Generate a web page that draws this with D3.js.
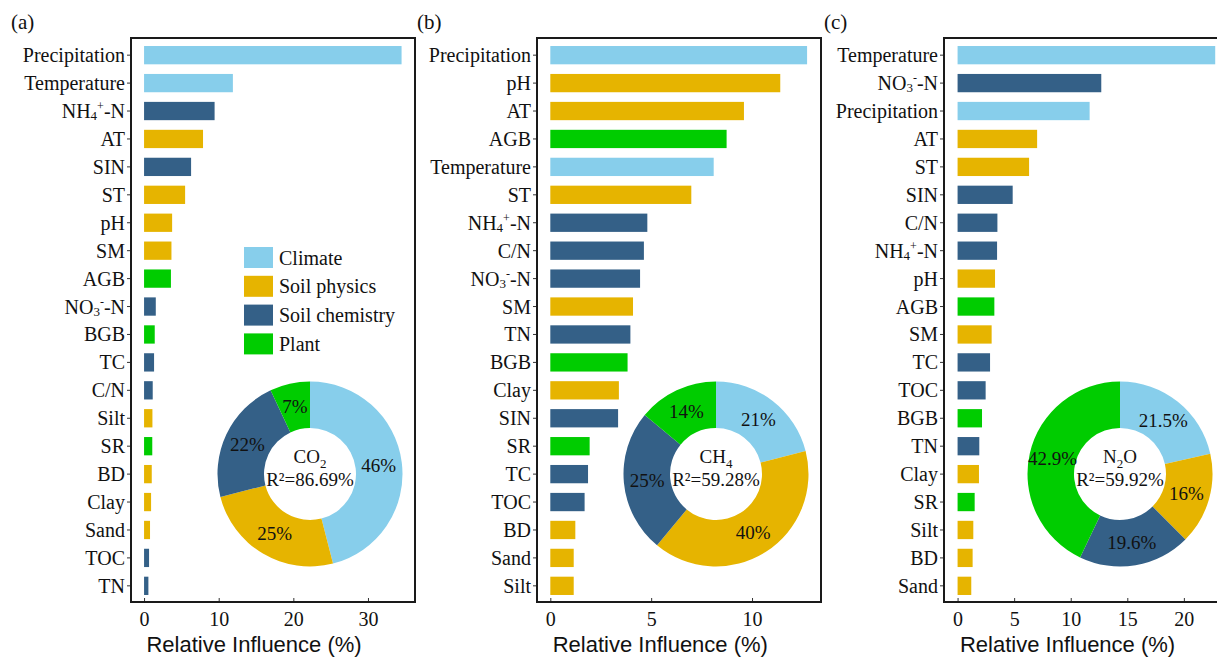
<!DOCTYPE html>
<html>
<head>
<meta charset="utf-8">
<script src="https://cdn.jsdelivr.net/npm/d3@7"></script>
<style>
  body { margin: 0; background: #fff; }
  svg { display: block; font-family: "Liberation Serif", "Times New Roman", serif; }
</style>
</head>
<body>
<svg id="chart" width="1217" height="659"></svg>
<script>
// ---- data ----
const groupNames = ["Climate", "Soil physics", "Soil chemistry", "Plant"];
const groupColors = ["#87CEEB", "#E6B400", "#346087", "#00CC00"];

const climateFactors = ["Precipitation", "Temperature"];
const physicsFactors = ["AT", "ST", "pH", "SM", "Silt", "BD", "Clay", "Sand"];
const chemistryFactors = ["NH4+-N", "SIN", "NO3--N", "TC", "C/N", "TOC", "TN"];
const plantFactors = ["AGB", "BGB", "SR"];

// (a) CO2
const co2Factors = ["Precipitation", "Temperature", "NH4+-N", "AT", "SIN", "ST", "pH", "SM", "AGB", "NO3--N",
  "BGB", "TC", "C/N", "Silt", "SR", "BD", "Clay", "Sand", "TOC", "TN"];
const co2Values = [34.5, 11.9, 9.45, 7.9, 6.3, 5.5, 3.76, 3.67, 3.6, 1.57,
  1.43, 1.34, 1.16, 1.12, 1.1, 1.03, 0.94, 0.8, 0.67, 0.58];
const co2Shares = [46, 25, 22, 7];

// (b) CH4
const ch4Factors = ["Precipitation", "pH", "AT", "AGB", "Temperature", "ST", "NH4+-N", "C/N", "NO3--N", "SM",
  "TN", "BGB", "Clay", "SIN", "SR", "TC", "TOC", "BD", "Sand", "Silt"];
const ch4Values = [12.73, 11.4, 9.6, 8.74, 8.1, 6.99, 4.81, 4.64, 4.45, 4.1,
  3.97, 3.83, 3.4, 3.36, 1.95, 1.87, 1.7, 1.24, 1.16, 1.16];
const ch4Shares = [21, 40, 25, 14];

// (c) N2O
const n2oFactors = ["Temperature", "NO3--N", "Precipitation", "AT", "ST", "SIN", "C/N", "NH4+-N", "pH", "AGB",
  "SM", "TC", "TOC", "BGB", "TN", "Clay", "SR", "Silt", "BD", "Sand"];
const n2oValues = [22.77, 12.7, 11.67, 7.03, 6.32, 4.87, 3.52, 3.49, 3.31, 3.25,
  3.01, 2.87, 2.48, 2.16, 1.92, 1.89, 1.51, 1.39, 1.33, 1.21];
const n2oShares = [21.5, 16, 19.6, 42.9];

const xTicksA = [0, 10, 20, 30];
const xTicksB = [0, 5, 10];
const xTicksC = [0, 5, 10, 15, 20];

// ---- helpers ----
function groupOf(f) {
  if (climateFactors.includes(f)) return 0;
  if (physicsFactors.includes(f)) return 1;
  if (chemistryFactors.includes(f)) return 2;
  return 3;
}

// split a factor name into normal / sub / sup pieces
function labelParts(f) {
  if (f === "NH4+-N") return [["NH", 0], ["4", 1], ["+", 2], ["-N", 0]];
  if (f === "NO3--N") return [["NO", 0], ["3", 1], ["-", 2], ["-N", 0]];
  return [[f, 0]];
}

// tspans with small raised/lowered pieces; base offset keeps text centred on the tick
function writeParts(textSel, parts, base, subShift) {
  textSel.text(null).attr("dy", null);
  let shift = -base;
  parts.forEach(([s, kind]) => {
    const sp = textSel.append("tspan").text(s);
    let target = 0;
    if (kind === 1) { sp.attr("font-size", 13); target = subShift; }
    if (kind === 2) { sp.attr("font-size", 12); target = -8; }
    sp.attr("dy", target - shift);
    shift = target;
  });
}

const svg = d3.select("#chart");

const panels = [
  { tag: "(a)", left: 131, domain: [-1.75, 36.3], ticks: xTicksA, factors: co2Factors, values: co2Values,
    shares: co2Shares, gas: [["CO", 0], ["2", 1]], r2: "R²=86.69%", cx: 310, legend: true },
  { tag: "(b)", left: 537, domain: [-0.66, 13.42], ticks: xTicksB, factors: ch4Factors, values: ch4Values,
    shares: ch4Shares, gas: [["CH", 0], ["4", 1]], r2: "R²=59.28%", cx: 716, legend: false },
  { tag: "(c)", left: 944, domain: [-1.2, 23.9], ticks: xTicksC, factors: n2oFactors, values: n2oValues,
    shares: n2oShares, gas: [["N", 0], ["2", 1], ["O", 0]], r2: "R²=59.92%", cx: 1120, legend: false }
];

const frameW = 284, frameTop = 38, frameBottom = 602;

panels.forEach(p => {
  const g = svg.append("g");

  const x = d3.scaleLinear().domain(p.domain).range([p.left, p.left + frameW]);
  const y = d3.scaleBand().domain(p.factors).range([41.2, 599.8])
    .paddingInner(0.345).paddingOuter(0.1725);

  // bars
  g.selectAll("rect.bar")
    .data(p.factors.map((f, i) => ({ f, v: p.values[i] })))
    .join("rect")
    .attr("class", "bar")
    .attr("x", x(0))
    .attr("y", d => y(d.f))
    .attr("width", d => x(d.v) - x(0))
    .attr("height", y.bandwidth())
    .attr("fill", d => groupColors[groupOf(d.f)]);

  // y axis
  const yAxis = g.append("g")
    .attr("transform", `translate(${p.left},0)`)
    .call(d3.axisLeft(y).tickSizeInner(4).tickSizeOuter(0).tickPadding(2));
  yAxis.select(".domain").remove();
  yAxis.selectAll(".tick line").attr("stroke", "#333");
  yAxis.selectAll(".tick text")
    .attr("font-size", 20).attr("fill", "#111")
    .attr("font-family", "Liberation Serif, Times New Roman, serif")
    .each(function (d) { writeParts(d3.select(this), labelParts(d), 7, 2); });

  // x axis (inward ticks)
  const xAxis = g.append("g")
    .attr("transform", `translate(0,${frameBottom})`)
    .call(d3.axisBottom(x).tickValues(p.ticks).tickSizeInner(-4).tickSizeOuter(0).tickPadding(10));
  xAxis.select(".domain").remove();
  xAxis.selectAll(".tick line").attr("stroke", "#333");
  xAxis.selectAll(".tick text")
    .attr("font-size", 20).attr("fill", "#111")
    .attr("font-family", "Liberation Serif, Times New Roman, serif");

  // frame
  g.append("rect")
    .attr("x", p.left).attr("y", frameTop)
    .attr("width", frameW).attr("height", frameBottom - frameTop)
    .attr("fill", "none").attr("stroke", "#1a1a1a").attr("stroke-width", 2);

  // axis title
  g.append("text")
    .attr("x", x(0) + 110).attr("y", 652)
    .attr("text-anchor", "middle")
    .attr("font-family", "Liberation Sans, Arial, sans-serif")
    .attr("font-size", 22).attr("fill", "#111")
    .text("Relative Influence (%)");

  // panel tag
  g.append("text")
    .attr("x", p.left - 120).attr("y", 29)
    .attr("font-size", 21).attr("fill", "#111")
    .text(p.tag);

  // donut
  const cy = 474;
  const pie = d3.pie().sort(null).value(d => d)(p.shares);
  const arc = d3.arc().innerRadius(46).outerRadius(92.5);
  const dg = g.append("g").attr("transform", `translate(${p.cx},${cy})`);
  dg.selectAll("path")
    .data(pie)
    .join("path")
    .attr("d", arc)
    .attr("fill", (d, i) => groupColors[i]);
  dg.selectAll("text.pct")
    .data(pie)
    .join("text")
    .attr("class", "pct")
    .attr("transform", d => `translate(${arc.centroid(d)})`)
    .attr("text-anchor", "middle")
    .attr("dy", "0.35em")
    .attr("font-size", 19).attr("fill", "#111")
    .text(d => d.data + "%");

  const gasText = dg.append("text")
    .attr("y", -11).attr("text-anchor", "middle")
    .attr("font-size", 19).attr("fill", "#111");
  writeParts(gasText, p.gas, 0, 5);
  dg.append("text")
    .attr("y", 12).attr("text-anchor", "middle")
    .attr("font-size", 19).attr("fill", "#111")
    .text(p.r2);

  // legend
  if (p.legend) {
    const lg = g.append("g").attr("transform", "translate(244,247)");
    groupNames.forEach((n, i) => {
      lg.append("rect")
        .attr("x", 0).attr("y", i * 28.8)
        .attr("width", 29).attr("height", 21)
        .attr("fill", groupColors[i]);
      lg.append("text")
        .attr("x", 35).attr("y", i * 28.8 + 10.5)
        .attr("dy", "0.35em")
        .attr("font-size", 20).attr("fill", "#111")
        .text(n);
    });
  }
});
</script>
</body>
</html>
